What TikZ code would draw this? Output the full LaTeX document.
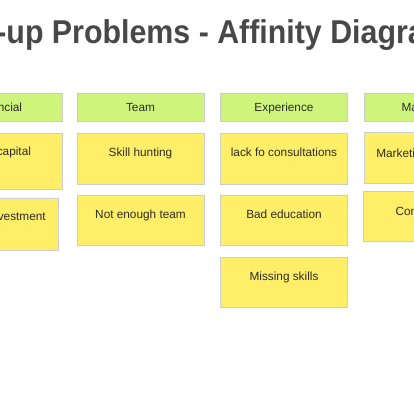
\documentclass[tikz,border=0pt]{standalone}
\usepackage{fontspec}
\setmainfont{Liberation Sans}
\usetikzlibrary{shadows}
\definecolor{headgreen}{RGB}{206,244,124}
\definecolor{notey}{RGB}{255,238,104}
\definecolor{titlegray}{RGB}{72,72,72}
\definecolor{inkgray}{RGB}{45,45,40}
\begin{document}
\begin{tikzpicture}[x=1pt, y=-1pt,
    card/.style={draw=black!20, line width=0.6pt, inner sep=0pt, minimum width=127pt,
      font=\fontsize{11.8}{13}\selectfont, text=inkgray,
      drop shadow={opacity=0.22, shadow xshift=0.6pt, shadow yshift=-0.8pt}},
    head/.style={card, fill=headgreen, anchor=north, text height=18pt, text depth=10pt},
    note/.style={card, fill=notey, anchor=north, text height=23pt, text depth=28pt}]
  \useasboundingbox (0,0) rectangle (414,400);
  \clip (0,0) rectangle (414,400);
  \fill[white] (0,0) rectangle (414,400);
  % title
  \node[anchor=base west, inner sep=0pt, xscale=0.92, transform shape, text=titlegray,
    font=\fontsize{33}{38}\selectfont\bfseries] (title) at (-73,43) {Start-up Problems - Affinity Diagram};
  % headers
  \node[head] (fin) at (-1.5,93) {Financial};
  \node[head] (team) at (140.5,93) {Team};
  \node[head] (exp) at (284,93) {Experience};
  \node[head] (mkt) at (427.5,93) {Marketing};
  % financial
  \node[note, text height=22pt, text depth=34pt] (capital) at (-1.5,133) {Initial capital};
  \node[note, minimum width=123pt, text height=22pt, text depth=30pt] (invest) at (-3.5,198) {Lack of investment};
  % team
  \node[note] (hunt) at (140.5,133) {Skill hunting};
  \node[note, text depth=27pt] (small) at (140.5,195) {Not enough team};
  % experience
  \node[note] (consult) at (284,133) {lack fo consultations};
  \node[note, text depth=27pt] (edu) at (284,195) {Bad education};
  \node[note, text depth=27pt] (missing) at (284,257) {Missing skills};
  % marketing
  \node[note, text height=25pt, text depth=26pt] (channels) at (427.5,132) {Marketing channels};
  \node[note, text height=24pt, text depth=26pt] (compet) at (427,191) {Competition};
\end{tikzpicture}
\end{document}
